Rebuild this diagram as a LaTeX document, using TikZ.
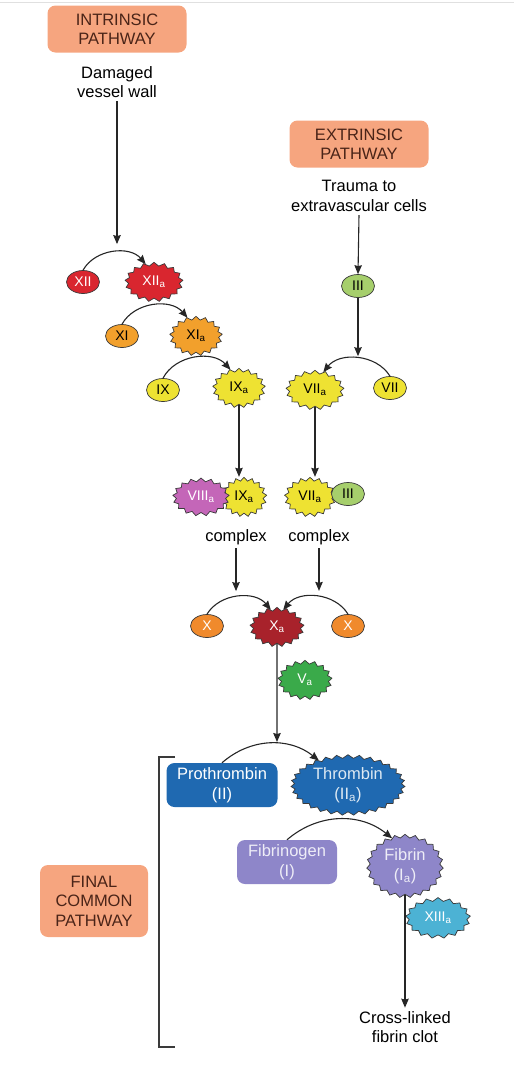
\documentclass[tikz,border=0pt]{standalone}
\usepackage{fontspec}
\setmainfont{Liberation Sans}
\usetikzlibrary{arrows.meta,shapes.geometric,shapes.symbols,positioning}
\definecolor{coagSalmon}{HTML}{F6A57F}
\definecolor{coagBrown}{HTML}{4A2418}
\definecolor{coagLine}{HTML}{3A3A3A}
\definecolor{coagRed}{HTML}{D9262F}
\definecolor{coagOrange}{HTML}{F2A02C}
\definecolor{coagYellow}{HTML}{EEE232}
\definecolor{coagLime}{HTML}{A6CF6C}
\definecolor{coagMagenta}{HTML}{C466B8}
\definecolor{coagXorange}{HTML}{F08A2C}
\definecolor{coagDarkRed}{HTML}{A8222B}
\definecolor{coagGreen}{HTML}{3AAA4A}
\definecolor{coagBlue}{HTML}{1F69B1}
\definecolor{coagPurple}{HTML}{8E86C9}
\definecolor{coagSky}{HTML}{4CB2D4}

\begin{document}
\begin{tikzpicture}[x=1pt,y=1pt,font=\fontsize{16.5}{19.5}\selectfont,
  pathbox/.style={fill=coagSalmon,rounded corners=8pt,text=coagBrown,align=center,
                  minimum width=139pt,minimum height=47pt,inner sep=2pt},
  factor/.style={ellipse,draw=coagLine,line width=0.7pt,minimum width=33pt,
                 minimum height=23pt,inner sep=0pt,font=\fontsize{14}{16}\selectfont},
  active/.style={starburst,random starburst=0,starburst points=17,
                 starburst point height=3.5pt,draw=coagLine,line width=0.7pt,
                 inner xsep=6.5pt,inner ysep=5.5pt,align=center,
                 font=\fontsize{14}{16}\selectfont},
  protein/.style={rounded corners=8pt,text=white,align=center,
                  minimum width=111pt,minimum height=44pt,inner sep=2pt},
  conv/.style={-{Stealth[length=9pt,width=7.5pt,inset=1pt]},line width=1.1pt,draw=black!85}]
  \useasboundingbox (0,0) rectangle (514,-1082);
  \draw[black!12,line width=1pt] (0,-2) -- (514,-2);

  % pathway heads
  \node[pathbox] (intr) at (117,-29) {INTRINSIC\\PATHWAY};
  \node[align=center] (dmg) at (117,-82) {Damaged\\vessel wall};
  \node[pathbox] (extr) at (359,-144) {EXTRINSIC\\PATHWAY};
  \node[align=center] (trauma) at (359,-196) {Trauma to\\extravascular cells};

  % intrinsic cascade
  \node[factor,fill=coagRed,text=white] (xii) at (83,-282) {XII};
  \node[active,fill=coagRed,text=white] (xiia) at (154,-282) {XII\textsubscript{a}};
  \node[factor,fill=coagOrange] (xi) at (122,-336) {XI};
  \node[active,fill=coagOrange] (xia) at (196,-336) {XI\textsubscript{a}};
  \node[factor,fill=coagYellow] (ix) at (163,-390) {IX};
  \node[active,fill=coagYellow] (ixa) at (239,-388) {IX\textsubscript{a}};

  % extrinsic cascade
  \node[factor,fill=coagLime] (iii) at (358,-286) {III};
  \node[active,fill=coagYellow] (viia) at (315,-390) {VII\textsubscript{a}};
  \node[factor,fill=coagYellow] (vii) at (390,-388) {VII};

  % complexes
  \node[active,fill=coagYellow,inner xsep=4pt] (ixb) at (244,-497) {IX\textsubscript{a}};
  \node[active,fill=coagMagenta,text=white,inner xsep=4pt,inner ysep=5pt] (viiia) at (201,-497) {VIII\textsubscript{a}};
  \node[active,fill=coagYellow,inner xsep=4pt] (viib) at (310,-497) {VII\textsubscript{a}};
  \node[factor,fill=coagLime] (iiib) at (348,-494) {III};
  \node (cxl) at (236,-537) {complex};
  \node (cxr) at (319,-537) {complex};

  % factor X
  \node[factor,fill=coagXorange,text=white] (xl) at (207,-626) {X};
  \node[active,fill=coagDarkRed,text=white,inner xsep=9pt] (xa) at (277,-627) {X\textsubscript{a}};
  \node[factor,fill=coagXorange,text=white] (xr) at (348,-626) {X};
  \node[active,fill=coagGreen,text=white,inner xsep=9pt] (va) at (305,-680) {V\textsubscript{a}};
  \coordinate (common) at (277,-742);

  % final common pathway
  \draw[coagLine,line width=1.1pt] (175,-757) -| (159,-1047) -- (175,-1047);
  \node[pathbox,minimum width=108pt,minimum height=72pt] (final) at (94,-901) {FINAL\\COMMON\\PATHWAY};
  \node[protein,fill=coagBlue] (proth) at (222,-785) {Prothrombin\\(II)};
  \node[active,fill=coagBlue,text=white!85!coagBlue,starburst points=31,
        inner xsep=3pt,inner ysep=1.5pt,font=\fontsize{16.5}{19.5}\selectfont]
        (thromb) at (348,-785) {Thrombin\\(II\textsubscript{a})};
  \node[protein,fill=coagPurple,minimum width=100pt,text=white!85!coagPurple] (fibgen) at (287,-862) {Fibrinogen\\(I)};
  \node[active,fill=coagPurple,text=white!85!coagPurple,starburst points=23,
        inner xsep=4pt,inner ysep=2.5pt,font=\fontsize{16.5}{19.5}\selectfont]
        (fibrin) at (405,-866) {Fibrin\\(I\textsubscript{a})};
  \node[active,fill=coagSky,text=white,inner xsep=7pt,inner ysep=6pt] (xiiia) at (438,-918) {XIII\textsubscript{a}};
  \node[align=center] (clot) at (405,-1027) {Cross-linked\\fibrin clot};

  % conversions
  \draw[conv] (xii.north) to[bend left=55] coordinate[pos=0.5] (c12) (xiia.115);
  \draw[conv] (xi.north) to[bend left=55] (xia.115);
  \draw[conv] (ix.north) to[bend left=55] (ixa.115);
  \draw[conv] (vii.north) to[bend right=55] coordinate[pos=0.5] (c7) (viia.65);
  \draw[conv] (xl.north) to[bend left=55] coordinate[pos=0.45] (cxa) (xa.110);
  \draw[conv] (xr.north) to[bend right=55] coordinate[pos=0.45] (cxb) (xa.70);
  \draw[conv] (proth.north) to[bend left=40] (thromb.140);
  \draw[conv] (fibgen.north) to[bend left=40] (fibrin.115);

  % flow
  \draw[conv,shorten >=8pt] (dmg.south) -- (dmg.south |- c12);
  \draw[conv] (trauma.south) -- (iii.north);
  \draw[conv,shorten >=2pt] (iii.south) -- (iii.south |- c7);
  \draw[conv] (ixa.south) -- (ixa.south |- ixb.north);
  \draw[conv] (viia.south) -- (viia.south |- viib.north);
  \draw[conv,shorten >=6pt] (cxl.south) -- (cxl.south |- cxa);
  \draw[conv,shorten >=6pt] (cxr.south) -- (cxr.south |- cxb);
  \draw[conv] (xa.south) -- (common);
  \draw[conv] (fibrin.south) -- (fibrin.south |- clot.north);
\end{tikzpicture}
\end{document}
